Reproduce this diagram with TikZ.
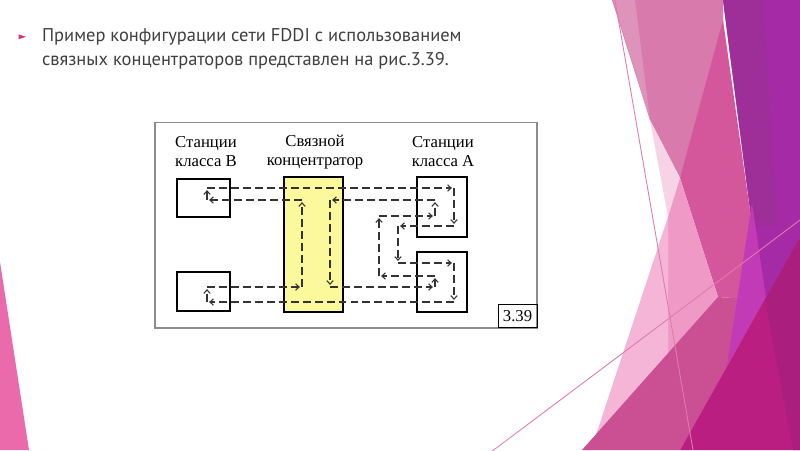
\documentclass[tikz,border=0pt]{standalone}
\usepackage{fontspec}
\setmainfont{Liberation Serif}
\newfontfamily\slidefont{PT Sans}
\usetikzlibrary{calc, positioning}
\usetikzlibrary{arrows.meta}

\definecolor{slidetext}{HTML}{404040}
\definecolor{bulletpink}{HTML}{D9348A}
\definecolor{hubyellow}{RGB}{252,248,156}
\definecolor{framegray}{HTML}{8C8C8C}
\definecolor{facetmauve}{HTML}{D87AAB}
\definecolor{facetstrip}{HTML}{DD93BA}
\definecolor{facetpale}{HTML}{F7D4E5}
\definecolor{facetlight}{HTML}{F4B5D7}
\definecolor{facetmedium}{HTML}{EF99C7}
\definecolor{facetpink}{HTML}{D4579B}
\definecolor{facetmid}{HTML}{CA4F93}
\definecolor{facetpurple}{HTML}{A42AA6}
\definecolor{facetplum}{HTML}{9E2E98}
\definecolor{facetviolet}{HTML}{C33AB6}
\definecolor{facetmagenta}{HTML}{B91E80}
\definecolor{facetdeep}{HTML}{AA1E7E}
\definecolor{facetleft}{HTML}{EA6AAB}
\definecolor{facetline}{HTML}{E07BB0}

\tikzset{
  station/.style={draw, line width=1.3pt, inner sep=0pt},
  ring/.style={draw=black!80, line width=0.6pt, dash pattern=on 4.5pt off 2.3pt,
    -{Straight Barb[length=2pt,width=3.6pt]}, shorten >=1.2pt},
  caption/.style={align=center, font=\fontsize{9.5}{10.8}\selectfont},
  heading/.style={anchor=base west, inner sep=0pt, text=slidetext,
    font=\slidefont\fontsize{10.5}{12.6}\selectfont},
}

\begin{document}
\begin{tikzpicture}[x=0.02cm, y=-0.02cm]
\useasboundingbox (0,0) rectangle (800,450);
\fill[white] (0,0) rectangle (800,450);

% slide facets
\fill[facetleft] (0,262) -- (29,450) -- (0,450) -- cycle;
\fill[facetpurple] (723,0) -- (800,0) -- (800,237) -- (765,300) -- (752,225) -- cycle;
\fill[facetplum] (723,0) -- (763,0) -- (777,225) -- (752,225) -- cycle;
\fill[facetmauve] (612,0) -- (723,0) -- (723,40) -- (680,178) -- (650,120) -- cycle;
\fill[facetstrip] (613,0) -- (635,0) -- (650,120) -- cycle;
\fill[facetpink] (723,20) -- (752,225) -- (765,300) -- (718,297) -- (680,178) -- cycle;
\fill[facetpale] (650,120) -- (680,178) -- (668,217) -- cycle;
\fill[facetmedium] (680,178) -- (718,297) -- (668,355) -- (668,217) -- cycle;
\fill[facetlight] (668,217) -- (668,355) -- (591,450) -- cycle;
\fill[facetmid] (582,450) -- (718,297) -- (765,300) -- (680,450) -- cycle;
\fill[facetviolet] (752,203) -- (766,298) -- (727,365) -- cycle;
\fill[facetmagenta] (680,450) -- (800,237) -- (800,450) -- cycle;
\fill[facetdeep] (765,300) -- (800,237) -- (800,450) -- (793,450) -- cycle;
\draw[facetline, line width=0.5pt] (615,0) -- (693,450);
\draw[facetline, line width=0.5pt] (487,455) -- (800,220);

% heading
\fill[bulletpink] (18.5,34.3) -- (18.5,39.3) -- (26,36.8) -- cycle;
\node[heading] (title1) at (41.7,41.7) {Пример конфигурации сети FDDI с использованием};
\node[heading] (title2) at (41.7,65) {связных концентраторов представлен на рис.3.39.};

% figure 3.39
\node[draw=framegray, line width=0.7pt, minimum width=7.64cm, minimum height=4.106cm] (fig) at (346,225.35) {};
\node[draw, line width=0.5pt, minimum width=0.78cm, minimum height=0.47cm, inner sep=0pt,
  font=\fontsize{9.5}{10}\selectfont] (num) at (517.5,315.7) {3.39};

\node[station, minimum width=1.06cm, minimum height=0.76cm] (b1) at (203.5,198) {};
\node[station, minimum width=1.06cm, minimum height=0.78cm] (b2) at (203.5,291.5) {};
\node[station, fill=hubyellow, minimum width=1.18cm, minimum height=2.7cm] (hub) at (313.8,244.8) {};
\node[station, minimum width=1.0cm, minimum height=1.2cm] (a1) at (442,207) {};
\node[station, minimum width=1.0cm, minimum height=1.2cm] (a2) at (442,282) {};

\node[caption] (capB) at (206,152) {Станции\\класса В};
\node[caption] (capH) at (315,152) {Связной\\концентратор};
\node[caption] (capA) at (443,152) {Станции\\класса А};

% primary ring
\coordinate (p1) at (207,188);
\coordinate (p2) at (454,188);
\coordinate (p3) at (454,226);
\coordinate (p4) at (398,226);
\coordinate (p5) at (398,263);
\coordinate (p6) at (454,263);
\coordinate (p7) at (454,302);
\coordinate (p8) at (207,302);
\coordinate (p9) at (207,287);
\coordinate (p10) at (302,287);
\coordinate (p11) at (302,200);
\coordinate (p12) at (207,200);
% secondary ring
\coordinate (q1) at (435,200);
\coordinate (q2) at (330,200);
\coordinate (q3) at (330,287);
\coordinate (q4) at (435,287);
\coordinate (q5) at (435,276);
\coordinate (q6) at (379,276);
\coordinate (q7) at (379,216);
\coordinate (q8) at (435,216);

\foreach \a/\b in {p1/p2, p2/p3, p3/p4, p4/p5, p5/p6, p6/p7, p7/p8, p8/p9,
                   p9/p10, p10/p11, p11/p12, p12/p1,
                   q1/q2, q2/q3, q3/q4, q4/q5, q5/q6, q6/q7, q7/q8, q8/q1}
  \draw[ring] (\a) -- (\b);
\end{tikzpicture}
\end{document}
